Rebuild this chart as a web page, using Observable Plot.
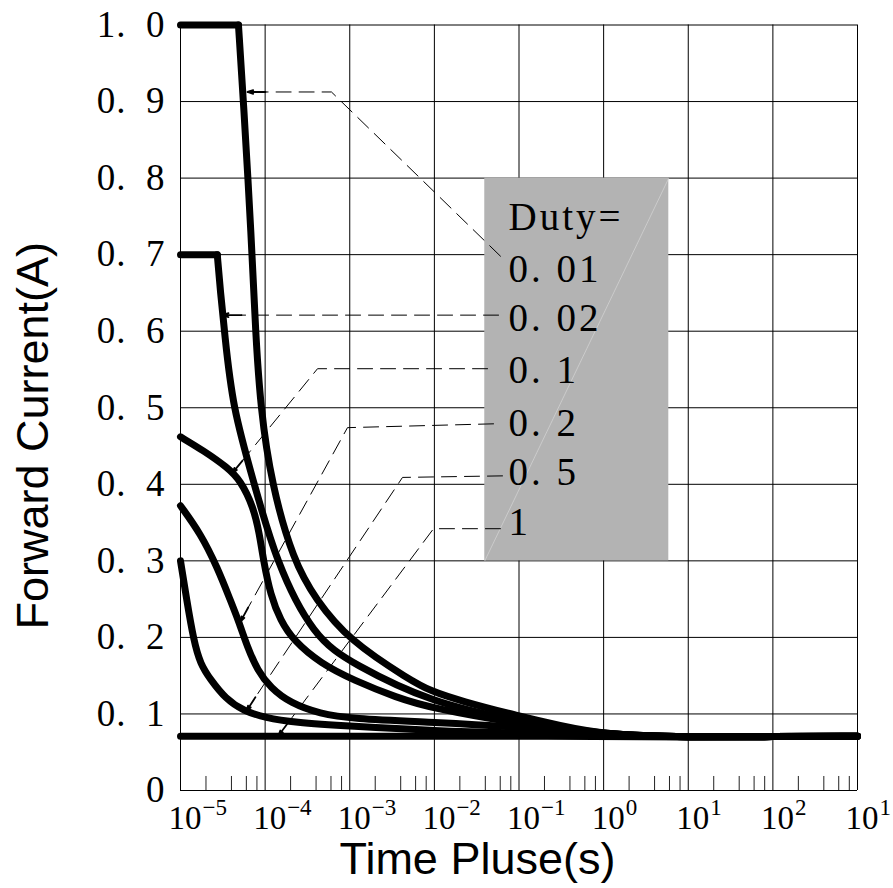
<!DOCTYPE html>
<html>
<head>
<meta charset="utf-8">
<script src="https://cdn.jsdelivr.net/npm/d3@7"></script>
<script src="https://cdn.jsdelivr.net/npm/@observablehq/plot@0.6"></script>
<style>
  html, body { margin: 0; padding: 0; background: #fff; }
  #chart svg { display: block; }
</style>
</head>
<body>
<div id="chart"></div>
<script>
// ---------- axes ----------
const decades = [1e-5, 1e-4, 1e-3, 1e-2, 1e-1, 1, 10, 100, 1000];
const decadeExp = ["\u22125", "\u22124", "\u22123", "\u22122", "\u22121", "0", "1", "2", "1"];
const minorTicks = [
  2e-5, 4e-5, 6e-5, 8e-5, 2e-4, 4e-4, 6e-4, 8e-4, 2e-3, 4e-3, 6e-3, 8e-3,
  2e-2, 4e-2, 6e-2, 8e-2, 0.2, 0.4, 0.6, 0.8, 2, 4, 6, 8, 20, 40, 60, 80, 200, 400, 600, 800
];
const yTicks = [0, 0.1, 0.2, 0.3, 0.4, 0.5, 0.6, 0.7, 0.8, 0.9, 1.0];

// ---------- curves (time in s, current in A) ----------
// duty 0.01
const tA0 = [1e-5, 4.84e-5];
const iA0 = [1.0, 1.0];
const tA = [4.84e-5, 5.55e-5, 6.9e-5, 7.69e-5, 8.81e-5, 1.19e-4, 2.16e-4, 3.94e-4, 9.8e-4, 5.22e-3, 9.0e-3, 0.0204, 0.1, 0.3, 1, 10, 100, 1000];
const iA = [1.0, 0.9, 0.72, 0.6, 0.5, 0.4, 0.3, 0.25, 0.196, 0.144, 0.13, 0.117, 0.097, 0.085, 0.073, 0.0695, 0.0705, 0.071];
// duty 0.02
const tB0 = [1e-5, 2.72e-5];
const iB0 = [0.7, 0.7];
const tB = [2.72e-5, 2.97e-5, 3.31e-5, 4.11e-5, 7.48e-5, 1.33e-4, 3.73e-4, 1.11e-3, 9.0e-3, 0.1, 1, 10, 100, 1000];
const iB = [0.7, 0.65, 0.6, 0.5, 0.4, 0.3, 0.2, 0.165, 0.115, 0.09, 0.073, 0.0695, 0.0705, 0.071];
// duty 0.1
const tC = [1e-5, 1.87e-5, 3.59e-5, 5.12e-5, 7.29e-5, 8.58e-5, 9.57e-5, 1.16e-4, 1.52e-4, 2.16e-4, 4.51e-4, 1.11e-3, 3.66e-3, 9.0e-3, 0.1, 1, 10, 100, 1000];
const iC = [0.462, 0.444, 0.422, 0.405, 0.37, 0.335, 0.30, 0.255, 0.222, 0.196, 0.166, 0.144, 0.121, 0.108, 0.087, 0.073, 0.0695, 0.0705, 0.071];
// duty 0.2
const tD = [1e-5, 1.72e-5, 2.74e-5, 3.90e-5, 4.84e-5, 6.19e-5, 8.13e-5, 1.16e-4, 2.0e-4, 4.51e-4, 1.02e-3, 1e-2, 0.1, 1, 10, 100, 1000];
const iD = [0.372, 0.336, 0.291, 0.248, 0.222, 0.187, 0.157, 0.134, 0.114, 0.100, 0.094, 0.089, 0.083, 0.073, 0.0695, 0.0705, 0.071];
// duty 0.5
const tE = [1e-5, 1.18e-5, 1.43e-5, 1.72e-5, 2.26e-5, 3.40e-5, 5.55e-5, 1.01e-4, 2.16e-4, 1e-3, 1e-2, 0.1, 1, 10, 100, 1000];
const iE = [0.30, 0.25, 0.196, 0.165, 0.145, 0.12, 0.104, 0.095, 0.089, 0.084, 0.078, 0.075, 0.073, 0.0695, 0.0705, 0.071];
// duty 1
const tF = [1e-5, 1, 10, 100, 1000];
const iF = [0.071, 0.071, 0.0695, 0.0705, 0.071];

// ---------- legend box & labels ----------
const boxT = [0.0394, 5.89];
const boxI = [0.3, 0.8];
const dutyLabels = ["Duty=", "0. 01", "0. 02", "0. 1", "0. 2", "0. 5", "1"];
const labelT = 0.0752;
const labelI = [0.748, 0.681, 0.616, 0.548, 0.480, 0.415, 0.350];

// ---------- leader lines (dashed) ----------
const leaderT = {
  L1: [0.0604, 6.08e-4, 1.01e-4],
  L2: [0.0573, 5.26e-5],
  L3: [0.0425, 4.16e-4, 5.41e-5],
  L4: [0.050, 9.4e-4, 6.31e-5],
  L5: [0.0638, 4.2e-3, 7.67e-5],
  L6: [0.0604, 9.77e-3, 1.87e-4]
};
const leaderI = {
  L1: [0.698, 0.9125, 0.9125],
  L2: [0.621, 0.621],
  L3: [0.551, 0.551, 0.431],
  L4: [0.479, 0.474, 0.239],
  L5: [0.411, 0.409, 0.1218],
  L6: [0.342, 0.342, 0.0885]
};
// arrow heads (solid short segments ending at curve)
const arrowT1 = [1.01e-4, 5.26e-5, 5.41e-5, 6.31e-5, 7.67e-5, 1.87e-4];
const arrowI1 = [0.9125, 0.621, 0.431, 0.239, 0.1218, 0.0885];
const arrowT2 = [6.19e-5, 3.13e-5, 4.11e-5, 5.12e-5, 6.03e-5, 1.44e-4];
const arrowI2 = [0.9125, 0.621, 0.415, 0.2206, 0.104, 0.0718];

// ---------- build tables ----------
const rows = (id, t, i) => t.map((d, k) => ({id, t: d, i: i[k]}));
const plateauRows = [...rows("A0", tA0, iA0), ...rows("B0", tB0, iB0)];
const curveRows = [
  ...rows("A", tA, iA), ...rows("B", tB, iB),
  ...rows("C", tC, iC), ...rows("D", tD, iD),
  ...rows("E", tE, iE), ...rows("F", tF, iF)
];
const leaderRows = Object.keys(leaderT).flatMap(k => rows(k, leaderT[k], leaderI[k]));
const arrowRows = arrowT1.map((d, k) => ({x1: d, y1: arrowI1[k], x2: arrowT2[k], y2: arrowI2[k]}));

const serif = "'Liberation Serif', 'DejaVu Serif', serif";
const sans = "'Liberation Sans', Arial, sans-serif";

try {
  const svg = Plot.plot({
    width: 893,
    height: 888,
    marginLeft: 180,
    marginRight: 36,
    marginTop: 24.5,
    marginBottom: 98,
    style: {background: "#fff", color: "#000"},
    x: {type: "log", domain: [1e-5, 1000], axis: null},
    y: {domain: [0, 1], axis: null},
    marks: [
      Plot.ruleY(yTicks, {stroke: "#000", strokeWidth: 1}),
      Plot.ruleX(decades, {stroke: "#000", strokeWidth: 1}),
      Plot.ruleX(minorTicks, {y1: 0, y2: 0.0183, stroke: "#222", strokeWidth: 1}),
      Plot.rect([0], {x1: boxT[0], x2: boxT[1], y1: boxI[0], y2: boxI[1], fill: "#b3b3b3"}),
      Plot.link([0], {x1: boxT[0], y1: boxI[0], x2: boxT[1], y2: boxI[1], stroke: "#d6d6d6", strokeWidth: 0.7}),
      Plot.line(leaderRows, {x: "t", y: "i", z: "id", stroke: "#000", strokeWidth: 1, strokeDasharray: "15,8", curve: "linear"}),
      Plot.arrow(arrowRows, {x1: "x1", y1: "y1", x2: "x2", y2: "y2", stroke: "#000", strokeWidth: 1.8, headLength: 9, headAngle: 35}),
      Plot.line(plateauRows, {x: "t", y: "i", z: "id", stroke: "#000", strokeWidth: 7, curve: "linear", strokeLinecap: "round"}),
      Plot.line(curveRows, {x: "t", y: "i", z: "id", stroke: "#000", strokeWidth: 7, curve: "basis", strokeLinecap: "round", strokeLinejoin: "round"}),
      Plot.text(dutyLabels, {x: labelT, y: (d, k) => labelI[k], text: d => d, textAnchor: "start", lineAnchor: "middle", fontSize: 39, fontFamily: serif, fill: "#000"}),
      Plot.axisY(yTicks, {anchor: "left", tickSize: 0, tickPadding: 15, fontSize: 37, fontFamily: serif,
        tickFormat: d => d === 0 ? "0" : d.toFixed(1).replace(".", ".\u2002"), label: null}),
      Plot.text(decades, {x: d => d, frameAnchor: "bottom", text: () => "10", textAnchor: "start", lineAnchor: "middle", dx: -12, dy: 28, fontSize: 33, fontFamily: serif, fill: "#000"}),
      Plot.text(decades, {x: d => d, frameAnchor: "bottom", text: (d, k) => decadeExp[k], textAnchor: "start", lineAnchor: "middle", dx: 22, dy: 17, fontSize: 23, fontFamily: serif, fill: "#000"}),
      Plot.text(["Forward Current(A)"], {frameAnchor: "left", text: d => d, rotate: -90, textAnchor: "middle", dx: -147, dy: 28, lineAnchor: "middle", fontSize: 45, fontFamily: sans, fill: "#000"}),
      Plot.text(["Time Pluse(s)"], {frameAnchor: "bottom", text: d => d, textAnchor: "middle", dx: -41.5, dy: 69, lineAnchor: "middle", fontSize: 45, fontFamily: sans, fill: "#000"})
    ]
  });
  d3.select(svg).selectAll("g").filter(function () { return this.getAttribute("font-size") === "39"; }).attr("letter-spacing", "3");
  d3.select(svg).selectAll("g").filter(function () { return this.getAttribute("font-size") === "37"; }).attr("letter-spacing", "1");
  document.getElementById("chart").appendChild(svg);
} catch (e) {
  document.body.insertAdjacentHTML("beforeend", "<pre>" + e + "</pre>");
}
</script>
</body>
</html>
